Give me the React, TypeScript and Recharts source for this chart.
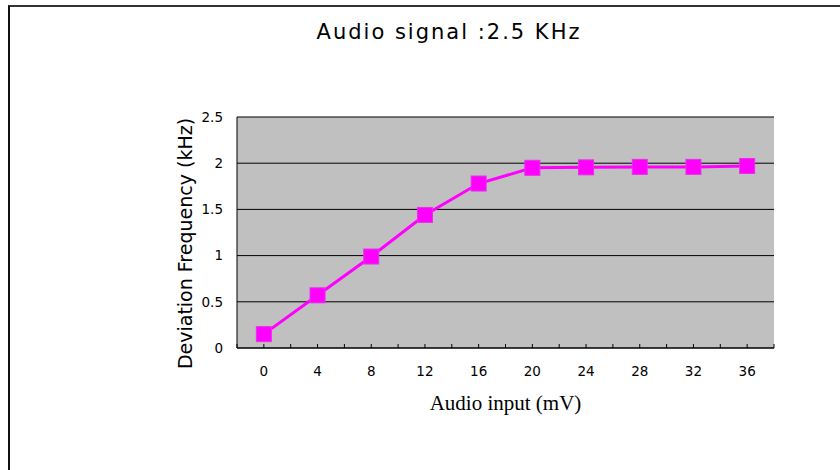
import { LineChart, Line, XAxis, YAxis, CartesianGrid } from 'recharts';

const audioInput = [0, 4, 8, 12, 16, 20, 24, 28, 32, 36];
const deviation = [0.15, 0.57, 0.99, 1.44, 1.78, 1.95, 1.955, 1.96, 1.96, 1.97];
const xTicks = [-2, 0, 2, 4, 6, 8, 10, 12, 14, 16, 18, 20, 22, 24, 26, 28, 30, 32, 34, 36, 38];
const yTicks = [0, 0.5, 1, 1.5, 2, 2.5];

const data = audioInput.map((x, i) => ({ x, dev: deviation[i] }));

const SquareDot = (props: any) => {
  const { cx, cy, index } = props;
  if (cx == null || cy == null) return <g key={index} />;
  return (
    <rect key={index} x={cx - 7.5} y={cy - 7.5} width={15} height={15} fill="#ff00ff" stroke="#e830e8" strokeWidth={1} />
  );
};

export default function App() {
  return (
    <div
      style={{
        position: 'absolute',
        left: 0,
        top: 0,
        width: 840,
        height: 470,
        overflow: 'hidden',
        background: '#fff',
      }}
    >
      <div
        style={{
          position: 'absolute',
          left: 8,
          top: 5,
          width: 900,
          height: 500,
          borderLeft: '2px solid #111',
          borderTop: '2px solid #333',
        }}
      />
      <div
        style={{
          position: 'absolute',
          left: 449,
          top: 19,
          transform: 'translateX(-50%)',
          whiteSpace: 'nowrap',
          fontFamily: '"DejaVu Sans", sans-serif',
          fontSize: 21,
          lineHeight: '26px',
          letterSpacing: 2,
          color: '#000',
        }}
      >
        Audio signal :2.5 KHz
      </div>
      <div style={{ position: 'absolute', left: 0, top: 0 }}>
        <LineChart width={840} height={470} data={data} margin={{ top: 117, right: 66, bottom: 42, left: 157 }}>
          <CartesianGrid vertical={false} stroke="#000" fill="#c0c0c0" fillOpacity={1} />
          <XAxis
            dataKey="x"
            type="number"
            domain={[-2, 38]}
            ticks={xTicks}
            interval={0}
            height={80}
            allowDataOverflow
            stroke="#000"
            tickSize={-4}
            tickMargin={22}
            tickFormatter={(v: number) => (v >= 0 && v <= 36 && v % 4 === 0 ? String(v) : '')}
            tick={{ fill: '#000', fontSize: 13.5, fontFamily: '"DejaVu Sans", sans-serif' }}
            label={{
              content: (p: any) => {
                const vb = p.viewBox;
                return (
                  <text
                    x={vb.x + vb.width / 2}
                    y={vb.y + 62}
                    textAnchor="middle"
                    fontFamily='"Liberation Serif", serif'
                    fontSize={21}
                    fill="#000"
                  >
                    Audio input (mV)
                  </text>
                );
              },
            }}
          />
          <YAxis
            type="number"
            domain={[0, 2.5]}
            ticks={yTicks}
            width={80}
            stroke="#000"
            tickLine={false}
            tickSize={0}
            tickMargin={14}
            tick={{ fill: '#000', fontSize: 13.5, fontFamily: '"DejaVu Sans", sans-serif' }}
            label={{
              content: (p: any) => {
                const vb = p.viewBox;
                const cx = vb.x + 28;
                const cy = vb.y + vb.height / 2 + 11;
                return (
                  <text
                    x={cx}
                    y={cy}
                    transform={`rotate(-90 ${cx} ${cy})`}
                    textAnchor="middle"
                    dominantBaseline="central"
                    fontFamily='"DejaVu Sans", sans-serif'
                    fontSize={19}
                    fill="#000"
                  >
                    Deviation Frequency (kHz)
                  </text>
                );
              },
            }}
          />
          <Line
            type="linear"
            dataKey="dev"
            stroke="#ff00ff"
            strokeWidth={3}
            dot={SquareDot}
            activeDot={false}
            isAnimationActive={false}
          />
        </LineChart>
      </div>
    </div>
  );
}
